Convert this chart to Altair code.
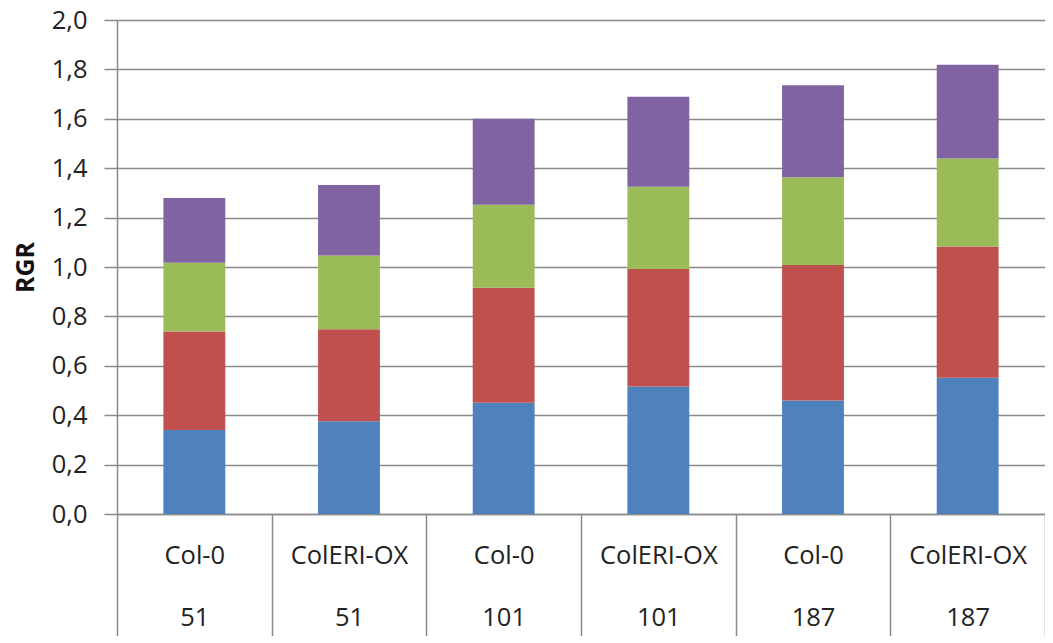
import altair as alt
import pandas as pd

genotypes = ["Col-0", "ColERI-OX", "Col-0", "ColERI-OX", "Col-0", "ColERI-OX"]
days = ["51", "51", "101", "101", "187", "187"]
series_names = ["Serie 1", "Serie 2", "Serie 3", "Serie 4"]
serie1 = [0.340, 0.376, 0.450, 0.516, 0.460, 0.552]
serie2 = [0.399, 0.372, 0.466, 0.476, 0.548, 0.531]
serie3 = [0.278, 0.299, 0.336, 0.333, 0.355, 0.356]
serie4 = [0.262, 0.285, 0.348, 0.364, 0.373, 0.380]
colors = ["#4F81BD", "#C0504D", "#9BBB59", "#8064A2"]
y_ticks = [0.0, 0.2, 0.4, 0.6, 0.8, 1.0, 1.2, 1.4, 1.6, 1.8, 2.0]

cats = [f"{g}|{d}" for g, d in zip(genotypes, days)]
rows = []
for i, c in enumerate(cats):
    for k, (name, vals) in enumerate(zip(series_names, [serie1, serie2, serie3, serie4])):
        rows.append({"cat": c, "series": name, "order": k, "value": vals[i]})
df = pd.DataFrame(rows)

GRAY = "#8a8a8a"
FONT = "Open Sans"
FS = 25.5

chart = alt.Chart(df).mark_bar(width=alt.RelativeBandSize(0.4)).encode(
    x=alt.X(
        "cat:N",
        sort=cats,
        scale=alt.Scale(paddingInner=0, paddingOuter=0),
        axis=alt.Axis(
            title=None,
            labelExpr="datum.value ? split(datum.value, '|') : ''",
            tickBand="extent",
            tickSize=122,
            tickColor=GRAY,
            tickWidth=1.5,
            labelPadding=-73,
            labelAngle=0,
            labelBaseline="alphabetic",
            labelLineHeight=62,
            labelFontSize=FS,
            labelFont=FONT,
            labelColor="#222222",
            labelOverlap=False,
            domainColor=GRAY,
            domainWidth=1.5,
            grid=False,
        ),
    ),
    y=alt.Y(
        "value:Q",
        stack="zero",
        scale=alt.Scale(domain=[0, 2], nice=False),
        axis=alt.Axis(
            title="RGR",
            values=y_ticks,
            labelExpr="replace(format(datum.value, '.1f'), '.', ',')",
            labelFontSize=FS,
            labelFont=FONT,
            labelColor="#222222",
            labelPadding=17,
            tickSize=13,
            tickColor=GRAY,
            tickWidth=1.5,
            domainColor=GRAY,
            domainWidth=1.5,
            gridColor=GRAY,
            gridWidth=1.5,
            titleFont=FONT,
            titleFontSize=25,
            titleFontWeight="bold",
            titleColor="#111111",
            titleAngle=270,
            titleX=-92,
            titleY=247,
            titleAlign="center",
            titleBaseline="middle",
        ),
    ),
    color=alt.Color("series:N", scale=alt.Scale(domain=series_names, range=colors), legend=None),
    order=alt.Order("order:Q"),
).properties(
    width=928,
    height=494,
    autosize=alt.AutoSizeParams(type="none"),
    padding={"left": 109, "top": 12, "right": 0, "bottom": 122},
).configure_view(stroke=None)

chart.save("out.html", embed_options={"renderer": "svg", "actions": False})
